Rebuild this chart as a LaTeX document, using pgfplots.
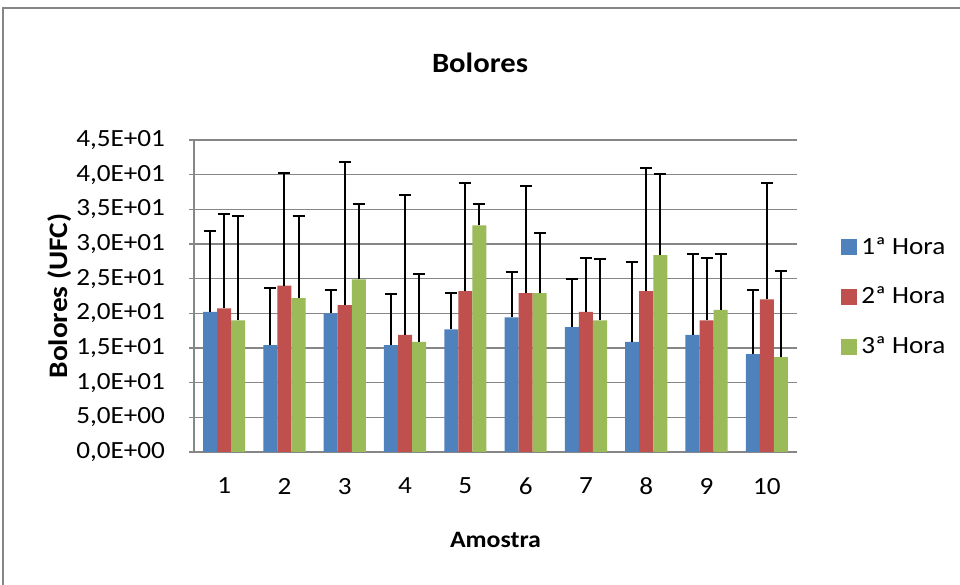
\documentclass[border=0pt]{standalone}
\usepackage{pgfplots}
\pgfplotsset{compat=1.18}
\usepackage{pgfplotstable}
\usepackage{fontspec}
\setmainfont{Carlito}[FakeStretch=1.1]
\definecolor{cblue}{HTML}{4F81BD}
\definecolor{cred}{HTML}{C0504D}
\definecolor{cgreen}{HTML}{9BBB59}
\definecolor{cgrid}{HTML}{868686}
\pgfplotstableread{
x b1 e1 b2 e2 b3 e3
1 20.2 11.7 20.7 13.6 19.0 15.1
2 15.4 8.2 24.0 16.2 22.2 11.9
3 20.0 3.3 21.2 20.6 24.9 10.8
4 15.4 7.4 16.9 20.2 15.9 9.8
5 17.7 5.3 23.2 15.6 32.7 3.0
6 19.4 6.6 22.9 15.5 22.9 8.7
7 18.0 6.9 20.2 7.8 19.0 8.8
8 15.9 11.5 23.2 17.7 28.4 11.7
9 16.9 11.6 19.0 9.0 20.5 8.0
10 14.1 9.3 22.0 16.8 13.7 12.4
}\data
\begin{document}
\begin{tikzpicture}
\useasboundingbox (0,0) rectangle (480bp,292.5bp);
\fill[white] (0,0) rectangle (480bp,292.5bp);
\draw[cgrid, line width=0.8bp] (1.5bp,0) -- (1.5bp,288.5bp) -- (480bp,288.5bp);
\node[font=\fontsize{14}{16}\selectfont\bfseries] at (240bp,261bp) {Bolores};
\node[font=\fontsize{13.4}{15}\selectfont\bfseries, rotate=90, anchor=center, inner sep=0pt] at (30bp,144.5bp) {Bolores (UFC)};
\begin{axis}[
  at={(97bp,66.5bp)}, anchor=south west,
  scale only axis, width=301.5bp, height=156bp,
  xmin=0.5, xmax=10.5, ymin=0, ymax=45,
  ybar=0pt, bar width=0.233,
  axis lines*=left,
  axis line style={cgrid, line width=0.8bp},
  xtick={1,...,10}, xticklabels={1,2,3,4,5,6,7,8,9,10},
  x tick style={draw=none},
  minor xtick={0.5,1.5,...,10.5},
  minor x tick style={cgrid, line width=0.8bp},
  minor tick length=4bp,
  ytick={0,5,...,45},
  yticklabels={{0,0E+00},{5,0E+00},{1,0E+01},{1,5E+01},{2,0E+01},{2,5E+01},{3,0E+01},{3,5E+01},{4,0E+01},{4,5E+01}},
  y tick style={cgrid, line width=0.8bp},
  major tick length=2.5bp,
  tick align=outside,
  ymajorgrids, major grid style={cgrid, line width=0.8bp},
  /pgf/number format/assume math mode=true,
  tick label style={font=\fontsize{12.4}{14}\selectfont, black},
  xticklabel style={yshift=-7bp},
  yticklabel style={xshift=-8.5bp},
  xlabel={\bfseries Amostra},
  xlabel style={font=\fontsize{11.8}{13}\selectfont, at={(axis description cs:0.5,-0.282)}, anchor=center},
  legend style={draw=none, fill=none, at={(1,0.5)}, anchor=west, xshift=22bp, yshift=-0.5bp,
    font=\fontsize{12.4}{14}\selectfont, row sep=11bp, inner sep=0pt,
    /tikz/every even column/.append style={column sep=0bp}},
  legend cell align=left,
  legend image code/.code={\fill[#1, draw=none] (0bp,-4bp) rectangle (8bp,4bp);},
  error bars/error bar style={black, line width=1bp},
  error bars/error mark options={rotate=90, black, mark size=3bp, line width=1bp},
]
\addplot[fill=cblue, draw=none, error bars/.cd, y dir=plus, y explicit] table[x=x, y=b1, y error=e1] {\data};
\addplot[fill=cred, draw=none, error bars/.cd, y dir=plus, y explicit] table[x=x, y=b2, y error=e2] {\data};
\addplot[fill=cgreen, draw=none, error bars/.cd, y dir=plus, y explicit] table[x=x, y=b3, y error=e3] {\data};
\legend{1ª Hora, 2ª Hora, 3ª Hora}
\end{axis}
\end{tikzpicture}
\end{document}
